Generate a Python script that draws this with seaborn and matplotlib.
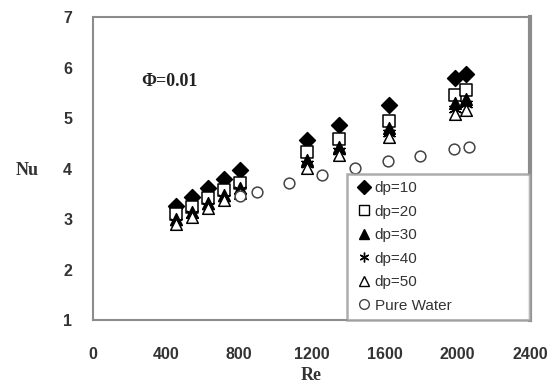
import numpy as np
import pandas as pd
import seaborn as sns
import matplotlib.pyplot as plt
from matplotlib.lines import Line2D

# Re values of the nanofluid runs
re_dp = [453, 542, 630, 719, 807, 1172, 1349, 1626, 1985, 2046]
nu_dp10 = [3.27, 3.43, 3.62, 3.80, 3.97, 4.57, 4.86, 5.27, 5.80, 5.88]
nu_dp20 = [3.10, 3.25, 3.42, 3.58, 3.72, 4.33, 4.58, 4.95, 5.45, 5.55]
nu_dp30 = [3.00, 3.15, 3.32, 3.48, 3.62, 4.18, 4.42, 4.80, 5.30, 5.38]
nu_dp40 = [2.95, 3.10, 3.27, 3.42, 3.57, 4.10, 4.35, 4.70, 5.18, 5.28]
nu_dp50 = [2.90, 3.05, 3.22, 3.38, 3.52, 4.02, 4.27, 4.62, 5.08, 5.16]

re_water = [807, 900, 1078, 1255, 1438, 1620, 1797, 1980, 2063]
nu_water = [3.45, 3.53, 3.71, 3.87, 4.01, 4.15, 4.25, 4.38, 4.43]

labels = ['dp=10', 'dp=20', 'dp=30', 'dp=40', 'dp=50', 'Pure Water']
x_ticks = [0, 400, 800, 1200, 1600, 2000, 2400]
y_ticks = [1, 2, 3, 4, 5, 6, 7]

sns.set_style('white')
plt.rcParams['font.family'] = ['Liberation Sans', 'DejaVu Sans']

fig = plt.figure(figsize=(5.54, 3.9), dpi=100)
ax = fig.add_axes([0.168, 0.179, 0.789, 0.777])

series = [
    (re_dp, nu_dp10, 'D', 'black', 'black', 65),
    (re_dp, nu_dp20, 's', 'white', 'black', 65),
    (re_dp, nu_dp30, '^', 'black', 'black', 70),
    (re_dp, nu_dp40, (6, 2, 0), 'black', 'black', 80),
    (re_dp, nu_dp50, '^', 'white', 'black', 70),
    (re_water, nu_water, 'o', 'white', '#444444', 60),
]

handles = []
for (xs, ys, m, fc, ec, s), lab in zip(series, labels):
    df = pd.DataFrame({'Re': xs, 'Nu': ys})
    sns.scatterplot(data=df, x='Re', y='Nu', marker=m, s=s, ax=ax,
                    color=fc, edgecolor=ec, linewidth=1.1, zorder=3)
    handles.append(Line2D([], [], linestyle='none', marker=m, markersize=7,
                          markerfacecolor=fc, markeredgecolor=ec,
                          color=ec, markeredgewidth=1.0, label=lab))

ax.set_xlim(0, 2400)
ax.set_ylim(1, 7)
ax.set_xticks(x_ticks)
ax.set_yticks(y_ticks)
ax.tick_params(axis='both', direction='out', length=5, width=1.2,
               color='#999999', labelsize=11.5, labelcolor='#333333', pad=10)
ax.tick_params(axis='x', pad=14)
for lab in ax.get_xticklabels() + ax.get_yticklabels():
    lab.set_fontweight('bold')
ax.set_xlabel('Re', family='Liberation Serif', fontweight='bold', fontsize=13,
              color='#333333', labelpad=4)
ax.set_ylabel('Nu', family='Liberation Serif', fontweight='bold', fontsize=13,
              color='#333333', rotation=0, va='center', ha='center')
ax.yaxis.set_label_coords(-0.15, 0.495)

for side in ['left', 'bottom', 'top']:
    ax.spines[side].set_color('#8c8c8c')
    ax.spines[side].set_linewidth(1.5)
ax.spines['right'].set_color('#8c8c8c')
ax.spines['right'].set_linewidth(3)

ax.text(265, 5.72, '\u03a6=0.01', family='Liberation Serif', fontweight='bold',
        fontsize=13, color='#222222', va='center')

leg = ax.legend(handles=handles, loc='lower left',
                bbox_to_anchor=(0.581, 0.0, 0.419, 0.472), mode='expand',
                fontsize=11, frameon=True, fancybox=False, labelspacing=0.62,
                handletextpad=0.1, handlelength=1.2, borderpad=0.5,
                borderaxespad=0)
leg.get_frame().set_edgecolor('#999999')
leg.get_frame().set_linewidth(1.8)
for t in leg.get_texts():
    t.set_color('#333333')

plt.savefig('out.png', dpi=100)
